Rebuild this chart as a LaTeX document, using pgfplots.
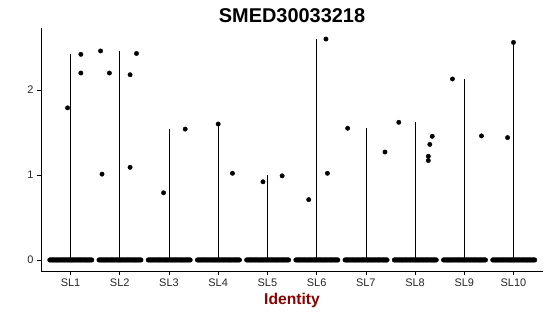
\documentclass[border=0pt]{standalone}
\usepackage{fontspec}
\setmainfont{Liberation Sans}
\usepackage{pgfplots}
\pgfplotsset{compat=1.18}
\definecolor{labred}{HTML}{8B0000}
\begin{document}
\begin{tikzpicture}
\begin{axis}[
  anchor=south west, at={(0,0)},
  scale only axis, width=502bp, height=243bp,
  xmin=0.4, xmax=10.6, ymin=-0.13, ymax=2.73,
  axis lines*=left,
  axis line style={black, line width=0.7bp},
  xtick={1,2,3,4,5,6,7,8,9,10},
  xticklabels={SL1,SL2,SL3,SL4,SL5,SL6,SL7,SL8,SL9,SL10},
  ytick={0,1,2},
  tick align=outside,
  major tick length=4bp,
  tick style={black, line width=0.6bp},
  /pgf/number format/assume math mode=true,
  ticklabel style={font=\fontsize{11}{13}\selectfont, text=black!85},
  title={SMED30033218},
  title style={font=\fontsize{20}{23}\selectfont\bfseries, at={(axis description cs:0.5,1)}, anchor=base, yshift=0bp},
  xlabel={Identity},
  xlabel style={font=\fontsize{15.7}{18}\selectfont\bfseries, text=labred, at={(axis description cs:0.5,0)}, anchor=base, yshift=-33bp},
  clip=false,
]
% violin (degenerate) lines
\addplot[ycomb, black, line width=0.5bp, mark=none] coordinates {
 (1,2.42) (2,2.46) (3,1.54) (4,1.60) (5,1.00) (6,2.60) (7,1.55) (8,1.62) (9,2.13) (10,2.56)
};
% zero-valued jittered points
\addplot[only marks, mark=*, mark size=2.3bp, black] coordinates {
(0.58,0) (0.605,0) (0.63,0) (0.655,0) (0.68,0) (0.705,0) (0.73,0) (0.755,0) (0.78,0) (0.805,0) (0.83,0) (0.855,0) (0.88,0) (0.905,0) (0.93,0) (0.955,0) (0.98,0) (1.005,0) (1.03,0) (1.055,0) (1.08,0) (1.105,0) (1.13,0) (1.155,0) (1.18,0) (1.205,0) (1.23,0) (1.255,0) (1.28,0) (1.305,0) (1.33,0) (1.355,0) (1.38,0) (1.405,0) (1.43,0)
(1.58,0) (1.605,0) (1.63,0) (1.655,0) (1.68,0) (1.705,0) (1.73,0) (1.755,0) (1.78,0) (1.805,0) (1.83,0) (1.855,0) (1.88,0) (1.905,0) (1.93,0) (1.955,0) (1.98,0) (2.005,0) (2.03,0) (2.055,0) (2.08,0) (2.105,0) (2.13,0) (2.155,0) (2.18,0) (2.205,0) (2.23,0) (2.255,0) (2.28,0) (2.305,0) (2.33,0) (2.355,0) (2.38,0) (2.405,0) (2.43,0)
(2.58,0) (2.605,0) (2.63,0) (2.655,0) (2.68,0) (2.705,0) (2.73,0) (2.755,0) (2.78,0) (2.805,0) (2.83,0) (2.855,0) (2.88,0) (2.905,0) (2.93,0) (2.955,0) (2.98,0) (3.005,0) (3.03,0) (3.055,0) (3.08,0) (3.105,0) (3.13,0) (3.155,0) (3.18,0) (3.205,0) (3.23,0) (3.255,0) (3.28,0) (3.305,0) (3.33,0) (3.355,0) (3.38,0) (3.405,0) (3.43,0)
(3.58,0) (3.605,0) (3.63,0) (3.655,0) (3.68,0) (3.705,0) (3.73,0) (3.755,0) (3.78,0) (3.805,0) (3.83,0) (3.855,0) (3.88,0) (3.905,0) (3.93,0) (3.955,0) (3.98,0) (4.005,0) (4.03,0) (4.055,0) (4.08,0) (4.105,0) (4.13,0) (4.155,0) (4.18,0) (4.205,0) (4.23,0) (4.255,0) (4.28,0) (4.305,0) (4.33,0) (4.355,0) (4.38,0) (4.405,0) (4.43,0)
(4.58,0) (4.605,0) (4.63,0) (4.655,0) (4.68,0) (4.705,0) (4.73,0) (4.755,0) (4.78,0) (4.805,0) (4.83,0) (4.855,0) (4.88,0) (4.905,0) (4.93,0) (4.955,0) (4.98,0) (5.005,0) (5.03,0) (5.055,0) (5.08,0) (5.105,0) (5.13,0) (5.155,0) (5.18,0) (5.205,0) (5.23,0) (5.255,0) (5.28,0) (5.305,0) (5.33,0) (5.355,0) (5.38,0) (5.405,0) (5.43,0)
(5.58,0) (5.605,0) (5.63,0) (5.655,0) (5.68,0) (5.705,0) (5.73,0) (5.755,0) (5.78,0) (5.805,0) (5.83,0) (5.855,0) (5.88,0) (5.905,0) (5.93,0) (5.955,0) (5.98,0) (6.005,0) (6.03,0) (6.055,0) (6.08,0) (6.105,0) (6.13,0) (6.155,0) (6.18,0) (6.205,0) (6.23,0) (6.255,0) (6.28,0) (6.305,0) (6.33,0) (6.355,0) (6.38,0) (6.405,0) (6.43,0)
(6.58,0) (6.605,0) (6.63,0) (6.655,0) (6.68,0) (6.705,0) (6.73,0) (6.755,0) (6.78,0) (6.805,0) (6.83,0) (6.855,0) (6.88,0) (6.905,0) (6.93,0) (6.955,0) (6.98,0) (7.005,0) (7.03,0) (7.055,0) (7.08,0) (7.105,0) (7.13,0) (7.155,0) (7.18,0) (7.205,0) (7.23,0) (7.255,0) (7.28,0) (7.305,0) (7.33,0) (7.355,0) (7.38,0) (7.405,0) (7.43,0)
(7.58,0) (7.605,0) (7.63,0) (7.655,0) (7.68,0) (7.705,0) (7.73,0) (7.755,0) (7.78,0) (7.805,0) (7.83,0) (7.855,0) (7.88,0) (7.905,0) (7.93,0) (7.955,0) (7.98,0) (8.005,0) (8.03,0) (8.055,0) (8.08,0) (8.105,0) (8.13,0) (8.155,0) (8.18,0) (8.205,0) (8.23,0) (8.255,0) (8.28,0) (8.305,0) (8.33,0) (8.355,0) (8.38,0) (8.405,0) (8.43,0)
(8.58,0) (8.605,0) (8.63,0) (8.655,0) (8.68,0) (8.705,0) (8.73,0) (8.755,0) (8.78,0) (8.805,0) (8.83,0) (8.855,0) (8.88,0) (8.905,0) (8.93,0) (8.955,0) (8.98,0) (9.005,0) (9.03,0) (9.055,0) (9.08,0) (9.105,0) (9.13,0) (9.155,0) (9.18,0) (9.205,0) (9.23,0) (9.255,0) (9.28,0) (9.305,0) (9.33,0) (9.355,0) (9.38,0) (9.405,0) (9.43,0)
(9.58,0) (9.605,0) (9.63,0) (9.655,0) (9.68,0) (9.705,0) (9.73,0) (9.755,0) (9.78,0) (9.805,0) (9.83,0) (9.855,0) (9.88,0) (9.905,0) (9.93,0) (9.955,0) (9.98,0) (10.005,0) (10.03,0) (10.055,0) (10.08,0) (10.105,0) (10.13,0) (10.155,0) (10.18,0) (10.205,0) (10.23,0) (10.255,0) (10.28,0) (10.305,0) (10.33,0) (10.355,0) (10.38,0) (10.405,0) (10.43,0)
};
% nonzero points
\addplot[only marks, mark=*, mark size=2.2bp, black] coordinates {
 (0.94,1.79) (1.21,2.42) (1.21,2.20)
 (1.61,2.46) (1.79,2.20) (2.21,2.18) (2.34,2.43) (1.64,1.01) (2.21,1.09)
 (2.89,0.79) (3.33,1.54)
 (4.00,1.60) (4.29,1.02)
 (4.91,0.92) (5.30,0.99)
 (6.19,2.60) (5.84,0.71) (6.22,1.02)
 (6.63,1.55) (7.39,1.27)
 (7.67,1.62) (8.35,1.455) (8.30,1.36) (8.27,1.22) (8.27,1.17)
 (8.76,2.13) (9.35,1.46)
 (10.00,2.56) (9.88,1.44)
};
\end{axis}
\pgfresetboundingbox
\path (-41bp,-45bp) rectangle (509bp,271bp);
\end{tikzpicture}
\end{document}
